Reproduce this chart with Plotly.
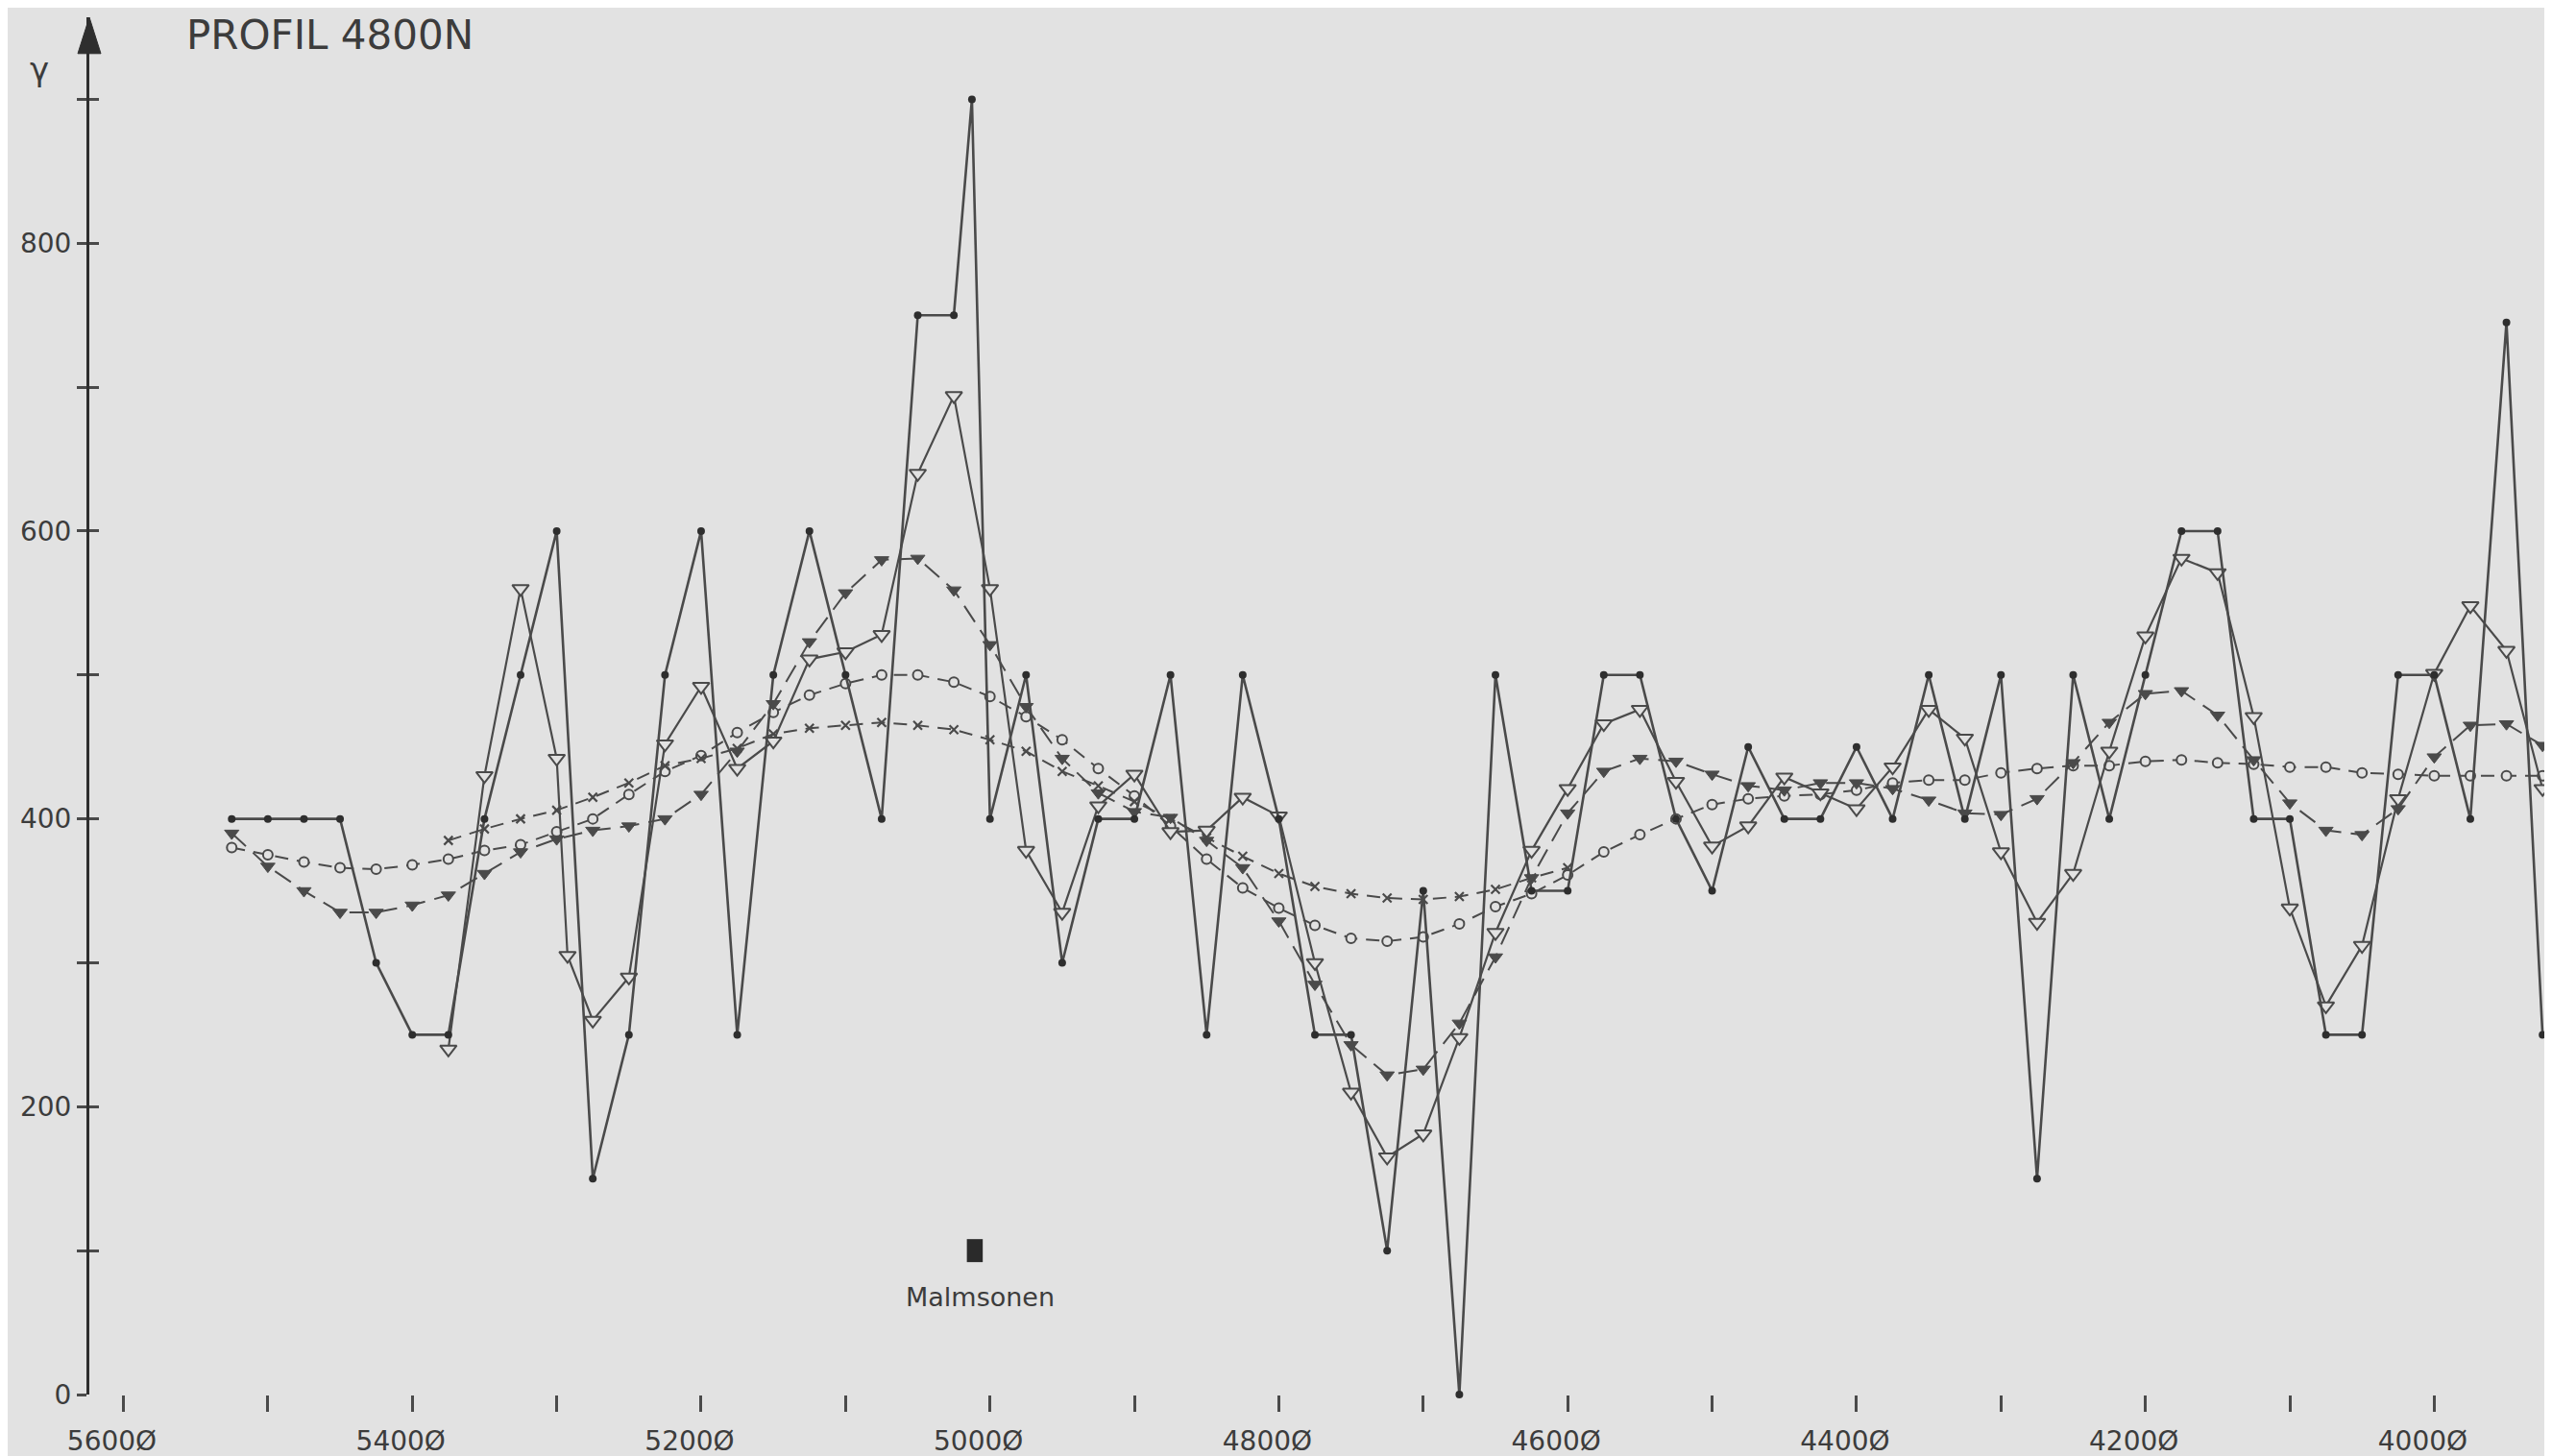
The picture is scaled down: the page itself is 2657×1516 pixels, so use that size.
import plotly.graph_objects as go

# ---------------- data ----------------
raw_x = [5525, 5500, 5475, 5450, 5425, 5400, 5375, 5350, 5325, 5300,
         5275, 5250, 5225, 5200, 5175, 5150, 5125, 5100, 5075, 5050,
         5025, 5012.5, 5000, 4975, 4950, 4925, 4900, 4875, 4850, 4825,
         4800, 4775, 4750, 4725, 4700, 4675, 4650, 4625, 4600, 4575,
         4550, 4525, 4500, 4475, 4450, 4425, 4400, 4375, 4350, 4325,
         4300, 4275, 4250, 4225, 4200, 4175, 4150, 4125, 4100, 4075,
         4050, 4025, 4000, 3975, 3950, 3925]
raw_y = [400, 400, 400, 400, 300, 250, 250, 400, 500, 600,
         150, 250, 500, 600, 250, 500, 600, 500, 400, 750,
         750, 900, 400, 500, 300, 400, 400, 500, 250, 500,
         400, 250, 250, 100, 350, 0, 500, 350, 350, 500,
         500, 400, 350, 450, 400, 400, 450, 400, 500, 400,
         500, 150, 500, 400, 500, 600, 600, 400, 400, 250,
         250, 500, 500, 400, 745, 250]

otri_x = [5375, 5350, 5325, 5300, 5292.5, 5275, 5250, 5225, 5200, 5175,
          5150, 5125, 5100, 5075, 5050, 5025, 5000, 4975, 4950, 4925,
          4900, 4875, 4850, 4825, 4800, 4775, 4750, 4725, 4700, 4675,
          4650, 4625, 4600, 4575, 4550, 4525, 4500, 4475, 4450, 4425,
          4400, 4375, 4350, 4325, 4300, 4275, 4250, 4225, 4200, 4175,
          4150, 4125, 4100, 4075, 4050, 4025, 4000, 3975, 3950, 3925]
otri_y = [240, 430, 560, 442, 305, 260, 290, 452, 492, 435,
          454, 511, 516, 528, 640, 694, 560, 378, 335, 409,
          431, 391, 392, 415, 402, 300, 210, 165, 181, 248,
          321, 378, 421, 466, 476, 426, 381, 395, 429, 418,
          407, 436, 476, 456, 377, 328, 362, 447, 527, 581,
          571, 471, 338, 270, 312, 414, 501, 548, 517, 421]

stations = [5525, 5500, 5475, 5450, 5425, 5400, 5375, 5350, 5325, 5300,
            5275, 5250, 5225, 5200, 5175, 5150, 5125, 5100, 5075, 5050,
            5025, 5000, 4975, 4950, 4925, 4900, 4875, 4850, 4825, 4800,
            4775, 4750, 4725, 4700, 4675, 4650, 4625, 4600, 4575, 4550,
            4525, 4500, 4475, 4450, 4425, 4400, 4375, 4350, 4325, 4300,
            4275, 4250, 4225, 4200, 4175, 4150, 4125, 4100, 4075, 4050,
            4025, 4000, 3975, 3950, 3925]
ftri_y = [390, 367, 350, 335, 335, 340, 347, 362, 377, 386,
          392, 395, 400, 417, 447, 480, 523, 557, 580, 581,
          559, 521, 478, 442, 418, 405, 401, 385, 366, 329,
          285, 243, 222, 226, 258, 304, 359, 404, 433, 442,
          440, 431, 423, 420, 425, 425, 421, 413, 404, 403,
          414, 439, 467, 487, 489, 472, 441, 411, 392, 389,
          407, 443, 465, 466, 451]
circ_y = [380, 375, 370, 366, 365, 368, 372, 378, 382, 391,
          400, 417, 433, 444, 460, 474, 486, 494, 500, 500,
          495, 485, 471, 455, 435, 416, 395, 372, 352, 338,
          326, 317, 315, 318, 327, 339, 348, 361, 377, 389,
          400, 410, 414, 416, 417, 420, 425, 427, 427, 432,
          435, 437, 437, 440, 441, 439, 438, 436, 436, 432,
          431, 430, 430, 430, 430]

cross_x = [5375, 5350, 5325, 5300, 5275, 5250, 5225, 5200, 5175, 5150,
           5125, 5100, 5075, 5050, 5025, 5000, 4975, 4950, 4925, 4900,
           4875, 4850, 4825, 4800, 4775, 4750, 4725, 4700, 4675, 4650,
           4625, 4600]
cross_y = [385, 393, 400, 406, 415, 425, 437, 442, 449, 459,
           463, 465, 467, 465, 462, 455, 447, 433, 423, 412,
           400, 387, 374, 362, 353, 348, 345, 344, 346, 351,
           359, 366]

x_ticks = [5600, 5500, 5400, 5300, 5200, 5100, 5000, 4900, 4800,
           4700, 4600, 4500, 4400, 4300, 4200, 4100, 4000]
x_ticklabels = ["5600Ø", "", "5400Ø", "", "5200Ø", "", "5000Ø", "", "4800Ø",
                "", "4600Ø", "", "4400Ø", "", "4200Ø", "", "4000Ø"]
y_ticks = [0, 100, 200, 300, 400, 500, 600, 700, 800, 900]
y_ticklabels = ["0", "", "200", "", "400", "", "600", "", "800", ""]

ore_zone_x = [5016, 5005]
ore_zone_y = [92, 108]
ore_label = "Malmsonen"
ore_label_pos = [5007, 68]

# ---------------- styling ----------------
BG = "#e2e2e2"
INK = "#4a4a4a"
TXT = "#3c3c3c"
FONT = "DejaVu Sans"

W, H = 2657, 1516
ML, MR, MT, MB = 85, 7, 10, 64

fig = go.Figure()

fig.add_trace(go.Scatter(
    x=stations, y=circ_y, mode="lines+markers", cliponaxis=False,
    line=dict(color=INK, width=2, dash="14px,9px"),
    marker=dict(symbol="circle", size=10, color=BG, line=dict(color=INK, width=2)),
    showlegend=False))

fig.add_trace(go.Scatter(
    x=cross_x, y=cross_y, mode="lines+markers", cliponaxis=False, yaxis="y2",
    line=dict(color=INK, width=2, dash="14px,9px"),
    marker=dict(symbol="x-thin", size=9, color=INK, line=dict(color=INK, width=2.2)),
    showlegend=False))

fig.add_trace(go.Scatter(
    x=stations, y=ftri_y, mode="lines+markers", cliponaxis=False,
    line=dict(color=INK, width=2, dash="20px,10px"),
    marker=dict(symbol="triangle-down", size=13, color=INK, line=dict(color=INK, width=1)),
    showlegend=False))

fig.add_trace(go.Scatter(
    x=otri_x, y=otri_y, mode="lines+markers", cliponaxis=False,
    line=dict(color=INK, width=2.2),
    marker=dict(symbol="triangle-down", size=15, color=BG, line=dict(color=INK, width=2)),
    showlegend=False))

fig.add_trace(go.Scatter(
    x=raw_x, y=raw_y, mode="lines+markers", cliponaxis=False,
    line=dict(color=INK, width=2.6),
    marker=dict(symbol="circle", size=8, color="#2e2e2e"),
    showlegend=False))

# ore zone marker + label
fig.add_shape(type="rect", xref="x", yref="y",
              x0=ore_zone_x[0], x1=ore_zone_x[1], y0=ore_zone_y[0], y1=ore_zone_y[1],
              fillcolor="#2a2a2a", line=dict(width=0))
fig.add_annotation(x=ore_label_pos[0], y=ore_label_pos[1], xref="x", yref="y",
                   text=ore_label, showarrow=False,
                   font=dict(family=FONT, size=27, color=TXT))

# axis arrow at top of y-axis
pw = W - ML - MR
ph = H - MT - MB
aw = 12 / pw
ah = 38 / ph
fig.add_shape(type="path", xref="paper", yref="paper",
              path=f"M {-aw},{1-ah} L 0,1 L {aw},{1-ah} Z",
              fillcolor="#2e2e2e", line=dict(color="#2e2e2e", width=1))

# title and unit
fig.add_annotation(x=(184 - ML) / pw, y=1 - (2 - MT) / ph, xref="paper", yref="paper",
                   xanchor="left", yanchor="top", text="PROFIL 4800N", showarrow=False,
                   font=dict(family=FONT, size=42, color=TXT))
fig.add_annotation(x=(33 - ML) / pw, y=1 - (64 - MT) / ph, xref="paper", yref="paper",
                   xanchor="center", yanchor="middle", text="γ", showarrow=False,
                   font=dict(family=FONT, size=34, color=TXT))

fig.update_layout(
    width=W, height=H,
    margin=dict(l=ML, r=MR, t=MT, b=MB, pad=0),
    paper_bgcolor=BG, plot_bgcolor=BG,
    font=dict(family=FONT, color=TXT),
    xaxis=dict(range=[5623.6, 3917.8], showgrid=False, zeroline=False, showline=False,
               tickmode="array", tickvals=x_ticks, ticktext=x_ticklabels,
               ticks="outside", ticklen=17, tickwidth=3, tickcolor=INK,
               tickfont=dict(family=FONT, size=28, color=TXT),
               ticklabelshift=12, ticklabelstandoff=6),
    yaxis=dict(range=[0, 957], showgrid=False, zeroline=False,
               showline=True, linewidth=3, linecolor="#2e2e2e",
               tickmode="array", tickvals=y_ticks, ticktext=y_ticklabels,
               ticks="outside", ticklen=10, tickwidth=3, tickcolor=INK,
               tickfont=dict(family=FONT, size=28, color=TXT)),
    yaxis2=dict(range=[0, 957], overlaying="y", side="left", showgrid=False,
                zeroline=False, showline=False, showticklabels=False,
                tickmode="array", tickvals=y_ticks,
                ticks="inside", ticklen=10, tickwidth=3, tickcolor=INK),
)

fig.write_html("out.html")
